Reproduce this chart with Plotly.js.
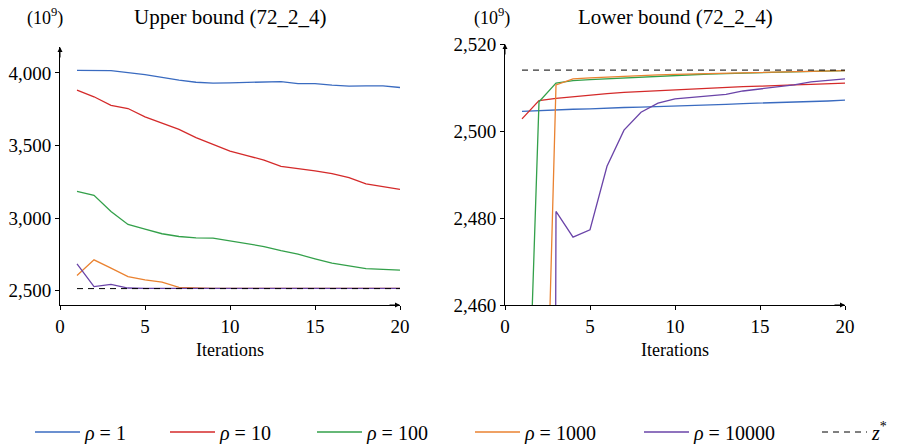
<!DOCTYPE html>
<html>
<head>
<meta charset="utf-8">
<script src="https://cdn.plot.ly/plotly-3.0.1.min.js"></script>
<style>html,body{margin:0;padding:0;background:#fff;}#chart{width:904px;height:444px;}</style>
</head>
<body>
<div id="chart"></div>
<script>
// ---- data ----
const iterations = [1,2,3,4,5,6,7,8,9,10,11,12,13,14,15,16,17,18,19,20];
const seriesNames = ['<i>ρ</i> = 1','<i>ρ</i> = 10','<i>ρ</i> = 100','<i>ρ</i> = 1000','<i>ρ</i> = 10000'];
const zStarName = '<i>z</i><sup>*</sup>';
const zStar = 2514;

// Upper bound (10^9)
const upperRho1 = [4018,4018,4016,4002,3989,3970,3950,3936,3930,3932,3934,3939,3941,3927,3927,3916,3909,3911,3911,3900];
const upperRho10 = [3882,3836,3777,3755,3698,3652,3611,3555,3509,3461,3431,3399,3357,3343,3325,3306,3279,3235,3217,3198];
const upperRho100 = [3184,3157,3046,2956,2924,2892,2873,2864,2862,2843,2825,2804,2776,2751,2719,2689,2670,2652,2647,2641];
const upperRho1000 = [2604,2712,2655,2597,2574,2558,2523,2517,2516,2516,2516,2515,2515,2515,2515,2515,2515,2515,2515,2515];
const upperRho10000 = [2684,2528,2543,2518,2516,2516,2516,2516,2516,2515,2515,2515,2515,2515,2515,2515,2515,2515,2515,2515];

// Lower bound (10^9)
const lowerRho1 = [2504.5,2504.7,2504.8,2505.0,2505.1,2505.3,2505.4,2505.5,2505.6,2505.8,2505.9,2506.0,2506.1,2506.3,2506.4,2506.5,2506.6,2506.8,2506.9,2507.1];
const lowerRho10 = [2502.8,2507.0,2507.5,2507.9,2508.3,2508.6,2508.9,2509.1,2509.3,2509.5,2509.7,2509.9,2510.0,2510.2,2510.3,2510.5,2510.6,2510.7,2510.9,2511.0];
const lowerRho100 = [2388,2506.7,2511.0,2511.6,2511.8,2512.0,2512.2,2512.4,2512.6,2512.8,2512.9,2513.1,2513.2,2513.3,2513.5,2513.6,2513.7,2513.8,2513.85,2513.9];
const lowerRho1000 = [2200,2366,2510.6,2512.0,2512.2,2512.4,2512.6,2512.7,2512.9,2513.0,2513.1,2513.2,2513.3,2513.4,2513.5,2513.6,2513.7,2513.8,2513.85,2513.9];
const lowerRho10000 = [0,0,2481.5,2475.6,2477.3,2491.9,2500.2,2504.3,2506.4,2507.4,2507.7,2508.0,2508.4,2509.2,2509.7,2510.1,2510.6,2511.3,2511.6,2512.0];

const colors = ['#3a6bc0','#d42a2a','#33a04a','#ea8230','#6a44a8'];

const upper = [upperRho1, upperRho10, upperRho100, upperRho1000, upperRho10000];
const lower = [lowerRho1, lowerRho10, lowerRho100, lowerRho1000, lowerRho10000];
const legendIds = ['legend','legend2','legend3','legend4','legend5','legend6'];

const traces = [];
upper.forEach((ys, i) => traces.push({
  x: iterations, y: ys, type: 'scatter', mode: 'lines', name: seriesNames[i],
  line: {color: colors[i], width: 1.3}, xaxis: 'x', yaxis: 'y', showlegend: true, legend: legendIds[i]
}));
traces.push({x: iterations, y: iterations.map(() => zStar), type: 'scatter', mode: 'lines', name: zStarName,
  line: {color: '#000', width: 1, dash: '6px,5px'}, xaxis: 'x', yaxis: 'y', showlegend: true, legend: legendIds[5]});
lower.forEach((ys, i) => traces.push({
  x: iterations, y: ys, type: 'scatter', mode: 'lines', name: seriesNames[i],
  line: {color: colors[i], width: 1.3}, xaxis: 'x2', yaxis: 'y2', showlegend: false
}));
traces.push({x: iterations, y: iterations.map(() => zStar), type: 'scatter', mode: 'lines', name: zStarName,
  line: {color: '#000', width: 1, dash: '6px,5px'}, xaxis: 'x2', yaxis: 'y2', showlegend: false});

const fam = 'Liberation Serif';
const font = {family: fam, size: 19, color: '#000'};
const W = 904, H = 444;
const axCommon = {
  showgrid: false, zeroline: false, showline: true, linecolor: '#000', linewidth: 1,
  ticks: 'outside', ticklen: 4, tickcolor: '#000', tickfont: {family: fam, size: 19, color: '#000'}, fixedrange: true
};
const upperRange = [2401, 4179];
const lowerRange = [2460, 2520];

const legendStarts = [38, 173, 320, 478, 647, 825];

const layout = {
  width: W, height: H, margin: {l: 0, r: 0, t: 0, b: 0, autoexpand: false},
  paper_bgcolor: '#fff', plot_bgcolor: '#fff', font: font,
  showlegend: true,
  xaxis: Object.assign({}, axCommon, {domain: [60/W, 400/W], range: [0, 20], tickvals: [0,5,10,15,20],
    title: {text: 'Iterations', font: {family: fam, size: 18, color: '#000'}, standoff: 7}, anchor: 'y'}),
  yaxis: Object.assign({}, axCommon, {domain: [(H-305)/H, (H-47)/H], range: upperRange,
    tickvals: [2500,3000,3500,4000], tickformat: ',d', anchor: 'x'}),
  xaxis2: Object.assign({}, axCommon, {domain: [505/W, 845/W], range: [0, 20], tickvals: [0,5,10,15,20],
    title: {text: 'Iterations', font: {family: fam, size: 18, color: '#000'}, standoff: 7}, anchor: 'y2'}),
  yaxis2: Object.assign({}, axCommon, {domain: [(H-305)/H, (H-44)/H], range: lowerRange,
    tickvals: [2460,2480,2500,2520], tickformat: ',d', anchor: 'x2'}),
  annotations: [
    {xref: 'paper', yref: 'paper', x: 230/W, y: (H-17)/H, text: 'Upper bound (72_2_4)', showarrow: false,
      font: {family: fam, size: 21, color: '#000'}, xanchor: 'center', yanchor: 'middle'},
    {xref: 'paper', yref: 'paper', x: 675/W, y: (H-17)/H, text: 'Lower bound (72_2_4)', showarrow: false,
      font: {family: fam, size: 21, color: '#000'}, xanchor: 'center', yanchor: 'middle'},
    {xref: 'paper', yref: 'paper', x: 45/W, y: (H-17)/H, text: '(10<sup>9</sup>)', showarrow: false,
      font: {family: fam, size: 18, color: '#000'}, xanchor: 'center', yanchor: 'middle'},
    {xref: 'paper', yref: 'paper', x: 492/W, y: (H-17)/H, text: '(10<sup>9</sup>)', showarrow: false,
      font: {family: fam, size: 18, color: '#000'}, xanchor: 'center', yanchor: 'middle'},
    // axis arrows
    {xref: 'x', yref: 'y', x: 0, y: upperRange[1], ax: 0, ay: 12, text: '', showarrow: true, arrowhead: 2, arrowsize: 1, arrowwidth: 1, arrowcolor: '#000'},
    {xref: 'x', yref: 'y', x: 20, y: upperRange[0], ax: -12, ay: 0, text: '', showarrow: true, arrowhead: 2, arrowsize: 1, arrowwidth: 1, arrowcolor: '#000'},
    {xref: 'x2', yref: 'y2', x: 0, y: lowerRange[1], ax: 0, ay: 12, text: '', showarrow: true, arrowhead: 2, arrowsize: 1, arrowwidth: 1, arrowcolor: '#000'},
    {xref: 'x2', yref: 'y2', x: 20, y: lowerRange[0], ax: -12, ay: 0, text: '', showarrow: true, arrowhead: 2, arrowsize: 1, arrowwidth: 1, arrowcolor: '#000'}
  ]
};
legendIds.forEach((id, i) => {
  layout[id] = {orientation: 'h', x: (legendStarts[i] - 8)/W, xanchor: 'left', y: (H-432)/H, yanchor: 'middle',
    font: {family: fam, size: 20, color: '#000'}, itemwidth: 45, bgcolor: 'rgba(0,0,0,0)'};
});

Plotly.newPlot('chart', traces, layout, {displayModeBar: false, staticPlot: true});
</script>
</body>
</html>
